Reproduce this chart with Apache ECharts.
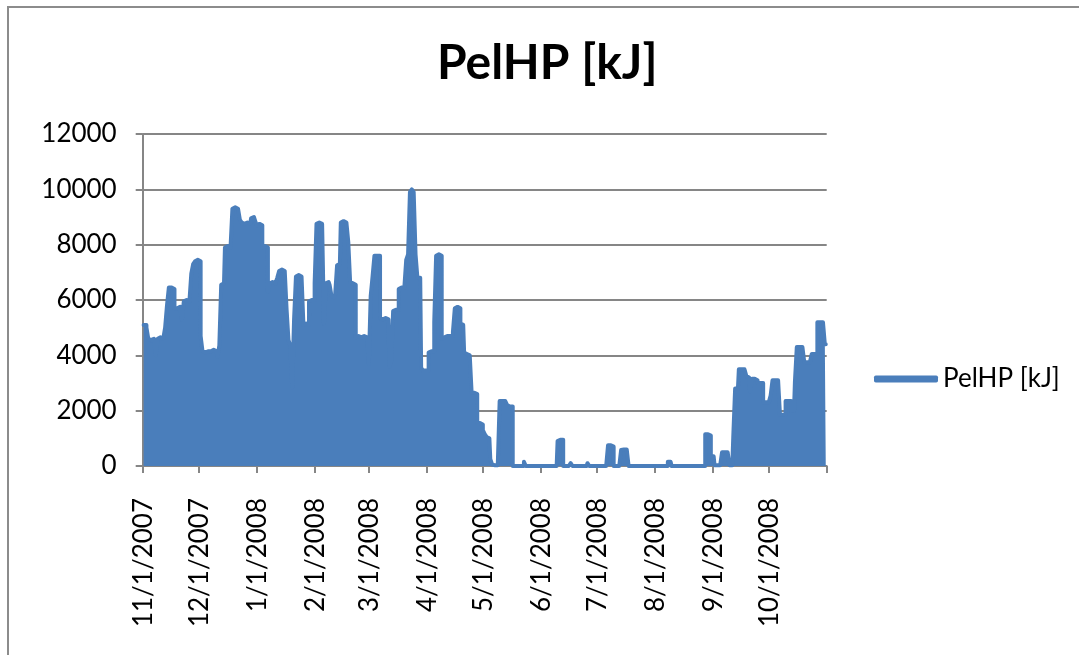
<!DOCTYPE html>
<html>
<head>
<meta charset="utf-8">
<script src="https://cdn.jsdelivr.net/npm/echarts@6/dist/echarts.min.js"></script>
<style>html,body{margin:0;padding:0;background:#fff}#c{width:1079px;height:655px}</style>
</head>
<body>
<div id="c"></div>
<script>
// Daily PelHP [kJ] values, 11/1/2007 .. 10/31/2008
var nov07 = [5100,5100,5000,4600,4550,4600,4550,4000,4600,4650,4600,4650,5000,5800,6450,6450,6400,5700,5700,5750,5700,5300,5950,6000,5950,6000,6950,7300,7400,7450];
var dec07 = [7400,4700,4150,4100,4150,4100,4150,4200,4150,4150,3950,4350,6550,6600,7900,7950,7900,7950,9300,9350,9300,9250,8900,8800,8750,8800,8750,8750,8950,9000,8900];
var jan08 = [8700,8750,8700,7900,7950,7900,6300,6600,6650,6600,6650,6800,7050,7100,7050,7000,5650,4550,4350,2850,5300,6850,6900,6850,6800,5100,5150,5100,5950,6000,6000];
var feb08 = [6600,8750,8800,8750,8700,5150,6600,6650,6550,6150,6100,6200,7250,7300,8800,8850,8800,8750,8100,6650,6600,6550,4650,4700,4650,4650,4700,4650,4650];
var mar08 = [3700,6150,6850,7600,7600,7600,5350,5300,5350,5300,5300,3600,3800,5600,5650,5650,6400,6450,6450,6400,7450,7650,9900,10000,9900,7650,6800,6800,3550,3450,3450];
var apr08 = [3450,4100,4150,4150,5200,7600,7650,7600,4600,4650,4700,4650,4700,4700,4850,5700,5750,5700,5150,5100,4100,4050,4000,4050,2650,2650,2600,1550,1550,1500];
var may08 = [1300,1150,1050,1000,250,50,30,30,30,2350,2350,2350,2300,2200,2150,2150,0,0,0,0,0,0,150,0,0,0,0,0,0,0,0];
var jun08 = [0,0,0,0,0,0,0,0,0,900,950,950,0,0,0,0,100,0,0,0,0,0,0,0,0,100,0,0,0,0];
var jul08 = [0,0,0,0,0,0,750,750,700,0,0,0,0,580,600,600,550,0,0,0,0,0,0,0,0,0,0,0,0,0,0];
var aug08 = [0,0,0,0,0,0,0,150,150,0,0,0,0,0,0,0,0,0,0,0,0,0,0,0,0,0,0,1150,1150,1100,350];
var sep08 = [350,30,30,30,30,500,500,500,500,30,30,1050,2800,2800,3500,3500,3500,3450,3250,3200,2700,3150,3150,3100,3000,3000,3000,2300,2300,2300];
var oct08 = [2300,2550,3100,3100,3100,3100,1850,1850,1850,2350,2350,2350,2000,2000,3050,4300,4300,4300,4300,3750,3750,3750,3750,4050,4050,4050,5200,5200,5200,5200,4400];

var seriesName = 'PelHP [kJ]';
var titleText = 'PelHP [kJ]';
var yTicks = [0, 2000, 4000, 6000, 8000, 10000, 12000];
var startDate = [2007, 10, 1]; // year, month (0-based), day

var values = [].concat(nov07, dec07, jan08, feb08, mar08, apr08, may08, jun08, jul08, aug08, sep08, oct08);
var categories = [];
for (var i = 0; i < values.length; i++) {
  var d = new Date(startDate[0], startDate[1], startDate[2] + i);
  categories.push((d.getMonth() + 1) + '/' + d.getDate() + '/' + d.getFullYear());
}
function isMonthStart(v) { return /^\d+\/1\/\d{4}$/.test(v); }

var FONT = 'Lato';
var chart = echarts.init(document.getElementById('c'));
chart.setOption({
  animation: false,
  backgroundColor: '#fff',
  graphic: [{
    type: 'rect', shape: { x: 8, y: 7, width: 1100, height: 700 },
    style: { fill: 'none', stroke: '#8c8c8c', lineWidth: 2 }, silent: true, z: -1
  }],
  title: {
    text: titleText, left: 432, top: 35,
    textStyle: { fontFamily: FONT, fontWeight: 'bold', fontSize: 48, color: '#000' }
  },
  legend: {
    data: [seriesName], left: 869, top: 361, icon: 'roundRect',
    itemWidth: 64, itemHeight: 7,
    textStyle: { fontFamily: FONT, fontSize: 26, color: '#000' }
  },
  grid: { left: 142.7, right: 252.3, top: 134, bottom: 189 },
  xAxis: {
    type: 'category', data: categories, boundaryGap: true,
    axisLine: { show: true, lineStyle: { color: '#868686', width: 2 } },
    axisTick: { show: true, length: 7, interval: function (idx, v) { return isMonthStart(v); }, lineStyle: { color: '#868686', width: 2 } },
    axisLabel: {
      rotate: 90, margin: 32, interval: function (idx, v) { return isMonthStart(v); },
      fontFamily: FONT, fontSize: 26, color: '#000'
    },
    splitLine: { show: false }
  },
  yAxis: {
    type: 'value', min: yTicks[0], max: yTicks[yTicks.length - 1], interval: 2000,
    axisLine: { show: true, lineStyle: { color: '#868686', width: 2 } },
    axisTick: { show: true, length: 7, lineStyle: { color: '#868686', width: 2 } },
    axisLabel: { margin: 26, fontFamily: FONT, fontSize: 26, color: '#000', formatter: function (v) { return String(v); } },
    splitLine: { show: true, lineStyle: { color: '#868686', width: 2 } }
  },
  series: [{
    name: seriesName, type: 'line', data: values, symbol: 'none', step: 'middle',
    lineStyle: { color: '#4A7EBB', width: 4, join: 'round', cap: 'round' },
    itemStyle: { color: '#4A7EBB' },
    areaStyle: { color: '#4A7EBB', opacity: 1 }
  }]
});
</script>
</body>
</html>
